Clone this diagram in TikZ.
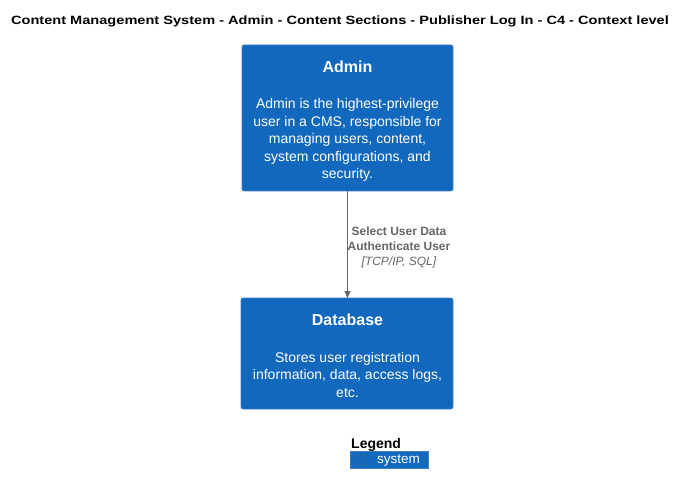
\documentclass[tikz,border=0pt]{standalone}
\usepackage{fontspec}
\setmainfont{Liberation Sans}
\usetikzlibrary{arrows.meta}
\definecolor{sysbg}{HTML}{1168BD}
\definecolor{sysborder}{HTML}{3C7FC0}
\definecolor{relgray}{HTML}{666666}
\tikzset{
  sysbox/.style={draw=sysborder, fill=sysbg, rounded corners=2pt, line width=0.6pt},
  systext/.style={text=white, align=center, inner sep=0pt},
  rel/.style={draw=relgray, line width=0.8pt, -{Triangle[length=7pt,width=6pt]}},
}
\begin{document}
\begin{tikzpicture}[x=1pt,y=-1pt]
\useasboundingbox (0,0) rectangle (687,494);
\node[font=\bfseries\fontsize{12}{14}\selectfont, anchor=center, inner sep=0pt] (title) at (340,21) {\scalebox{1.215}[1]{Content Management System - Admin - Content Sections - Publisher Log In - C4 - Context level}};
% Admin
\draw[sysbox] (242,45) rectangle (453,191);
\coordinate (adminbot) at (347.5,191);
\node[systext, font=\bfseries\fontsize{16}{18}\selectfont] (admint) at (347.5,67) {Admin};
\node[systext, font=\fontsize{14}{17.5}\selectfont] (admind) at (347.5,140) {Admin is the highest-privilege\\user in a CMS, responsible for\\managing users, content,\\system configurations, and\\security.};
% Database
\draw[sysbox] (241,298) rectangle (453,409);
\coordinate (dbtop) at (347.5,298);
\node[systext, font=\bfseries\fontsize{16}{18}\selectfont] (dbt) at (347.5,320) {Database};
\node[systext, font=\fontsize{14}{17.5}\selectfont] (dbd) at (347.5,374.5) {Stores user registration\\information, data, access logs,\\etc.};
% relation
\draw[rel] (adminbot) -- (dbtop);
\node[align=center, text=relgray, font=\fontsize{12}{15}\selectfont, inner sep=0pt] (rellabel) at (399,247) {\textbf{Select User Data}\\\textbf{Authenticate User}\\\textit{[TCP/IP, SQL]}};
% legend
\node[anchor=west, font=\bfseries\fontsize{14}{16}\selectfont, inner sep=0pt] (legend) at (351,445) {Legend};
\draw[fill=sysbg, draw=sysborder] (350,451) rectangle (428,468);
\draw[draw=sysborder!80!black, line width=0.5pt] (358,454) rectangle (364,465);
\node[anchor=west, text=white, font=\fontsize{13.5}{16}\selectfont, inner sep=0pt] (legsys) at (377,461) {system};
\end{tikzpicture}
\end{document}
